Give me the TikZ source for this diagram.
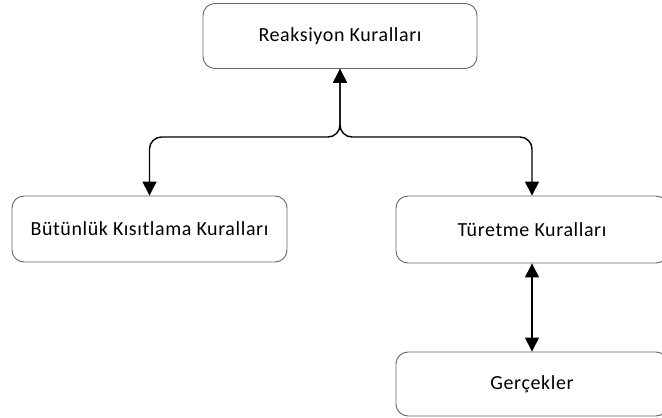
\documentclass[tikz,border=0pt]{standalone}
\usepackage{fontspec}
\setmainfont{Carlito}[LetterSpace=3]
\usetikzlibrary{arrows.meta}
\begin{document}
\begin{tikzpicture}[x=1pt,y=-1pt,
  rulebox/.style={draw=black!60, line width=0.9pt, rounded corners=12pt,
    inner sep=0pt, font=\fontsize{20}{24}\selectfont},
  link/.style={line width=1.4pt, rounded corners=12pt,
    {Triangle[length=14pt,width=14pt]}-{Triangle[length=14pt,width=14pt]}}]
  \useasboundingbox (0,0) rectangle (662,418);
  \clip (0,0) rectangle (662,418);
  \node[rulebox, minimum width=274pt, minimum height=65pt] (react) at (340,36) {Reaksiyon Kuralları};
  \node[rulebox, minimum width=275pt, minimum height=66pt] (integ) at (149.5,229) {Bütünlük Kısıtlama Kuralları};
  \node[rulebox, minimum width=272pt, minimum height=67pt] (deriv) at (532,229.5) {Türetme Kuralları};
  \node[rulebox, minimum width=272pt, minimum height=64pt] (facts) at (532,384) {Gerçekler};
  \draw[link] (react.south) -- (340,137) -| (integ.north);
  \draw[link] (react.south) -- (340,137) -| (deriv.north);
  \draw[link, rounded corners=0pt] (deriv.south) -- (facts.north);
\end{tikzpicture}
\end{document}
